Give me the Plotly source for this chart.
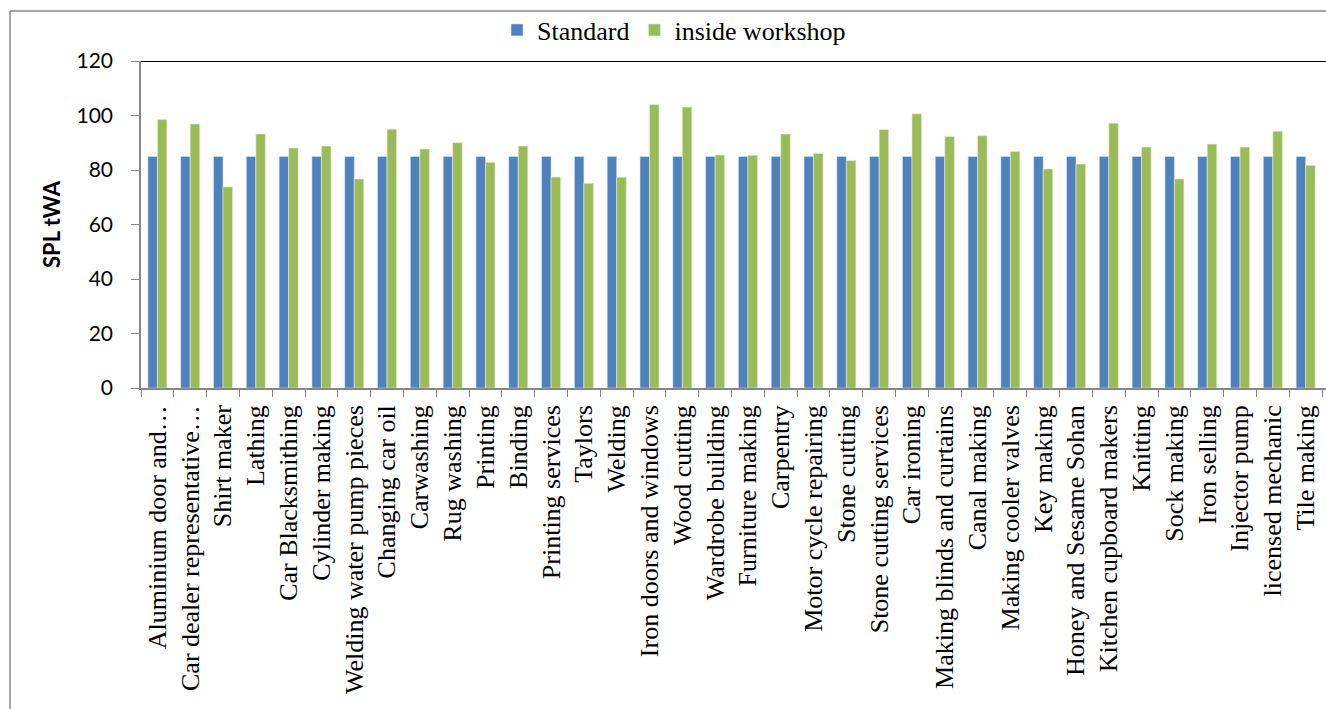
import plotly.graph_objects as go

categories = ["Aluminium door and…", "Car dealer representative…", "Shirt maker", "Lathing",
              "Car Blacksmithing", "Cylinder making", "Welding water pump pieces", "Changing car oil",
              "Carwashing", "Rug washing", "Printing", "Binding", "Printing services", "Taylors",
              "Welding", "Iron doors and windows", "Wood cutting", "Wardrobe building",
              "Furniture making", "Carpentry", "Motor cycle repairing", "Stone cutting",
              "Stone cutting services", "Car ironing", "Making blinds and curtains", "Canal making",
              "Making cooler valves", "Key making", "Honey and Sesame Sohan", "Kitchen cupboard makers",
              "Knitting", "Sock making", "Iron selling", "Injector pump", "licensed mechanic", "Tile making"]

standard = [85] * 36

inside_workshop = [98.5, 96.9, 73.8, 93.2, 88.1, 88.8, 76.7, 95.0, 87.7, 90.0, 82.8, 88.8,
                   77.4, 75.1, 77.3, 104.0, 103.1, 85.5, 85.4, 93.2, 86.1, 83.5, 94.9, 100.6,
                   92.3, 92.6, 86.8, 80.4, 82.2, 97.2, 88.4, 76.7, 89.5, 88.4, 94.2, 81.7]

y_ticks = [0, 20, 40, 60, 80, 100, 120]

W, H = 1326, 709
ML, MT, MB, MR = 141, 61, 321, 0

fig = go.Figure()
fig.add_trace(go.Bar(name="Standard", x=categories, y=standard,
                     marker=dict(color="#4F81BD", line=dict(color="#DCE6F2", width=0.6))))
fig.add_trace(go.Bar(name="inside workshop", x=categories, y=inside_workshop,
                     marker=dict(color="#9BBB59", line=dict(color="#E6EED5", width=0.6))))

pw = W - ML - MR
ph = H - MT - MB
def px_x(p):
    return (p - ML) / pw
def px_y(p):
    return 1 - (p - MT) / ph

fig.update_layout(
    width=W, height=H,
    margin=dict(l=ML, r=MR, t=MT, b=MB),
    paper_bgcolor="white", plot_bgcolor="white",
    barmode="group", bargap=0.42, bargroupgap=0,
    showlegend=True,
    legend=dict(orientation="h", x=px_x(497), xanchor="left", y=px_y(30), yanchor="middle",
                font=dict(family="Liberation Serif", size=26, color="black"),
                itemwidth=30, traceorder="normal", bgcolor="rgba(0,0,0,0)"),
    xaxis=dict(range=[-0.5, 35.62], tickangle=-90, tickson="boundaries", ticks="outside",
               ticklen=7, tickcolor="#868686", showline=True, linecolor="#868686", linewidth=1.5,
               showgrid=False, tickfont=dict(family="Liberation Serif", size=26, color="black"),
               ticklabelstandoff=5, automargin=False),
    yaxis=dict(range=[0, 120], tickvals=y_ticks, ticks="outside", ticklen=8, tickcolor="#868686",
               showline=True, linecolor="#868686", linewidth=1.5, showgrid=False, zeroline=False,
               tickfont=dict(family="Lato", size=21, color="black"), ticklabelstandoff=14,
               title=dict(text="<b>SPL tWA</b>", font=dict(family="Lato", size=22, color="black"),
                          standoff=10),
               automargin=False),
    shapes=[
        dict(type="line", xref="paper", yref="y", x0=0, x1=1, y0=120, y1=120,
             line=dict(color="black", width=2)),
        dict(type="line", xref="paper", yref="paper", x0=px_x(10), x1=px_x(10),
             y0=px_y(11), y1=px_y(709), line=dict(color="#888888", width=1.5)),
        dict(type="line", xref="paper", yref="paper", x0=px_x(10), x1=1.0,
             y0=px_y(11), y1=px_y(11), line=dict(color="#888888", width=1.5)),
    ],
)

fig.write_html("out.html")
